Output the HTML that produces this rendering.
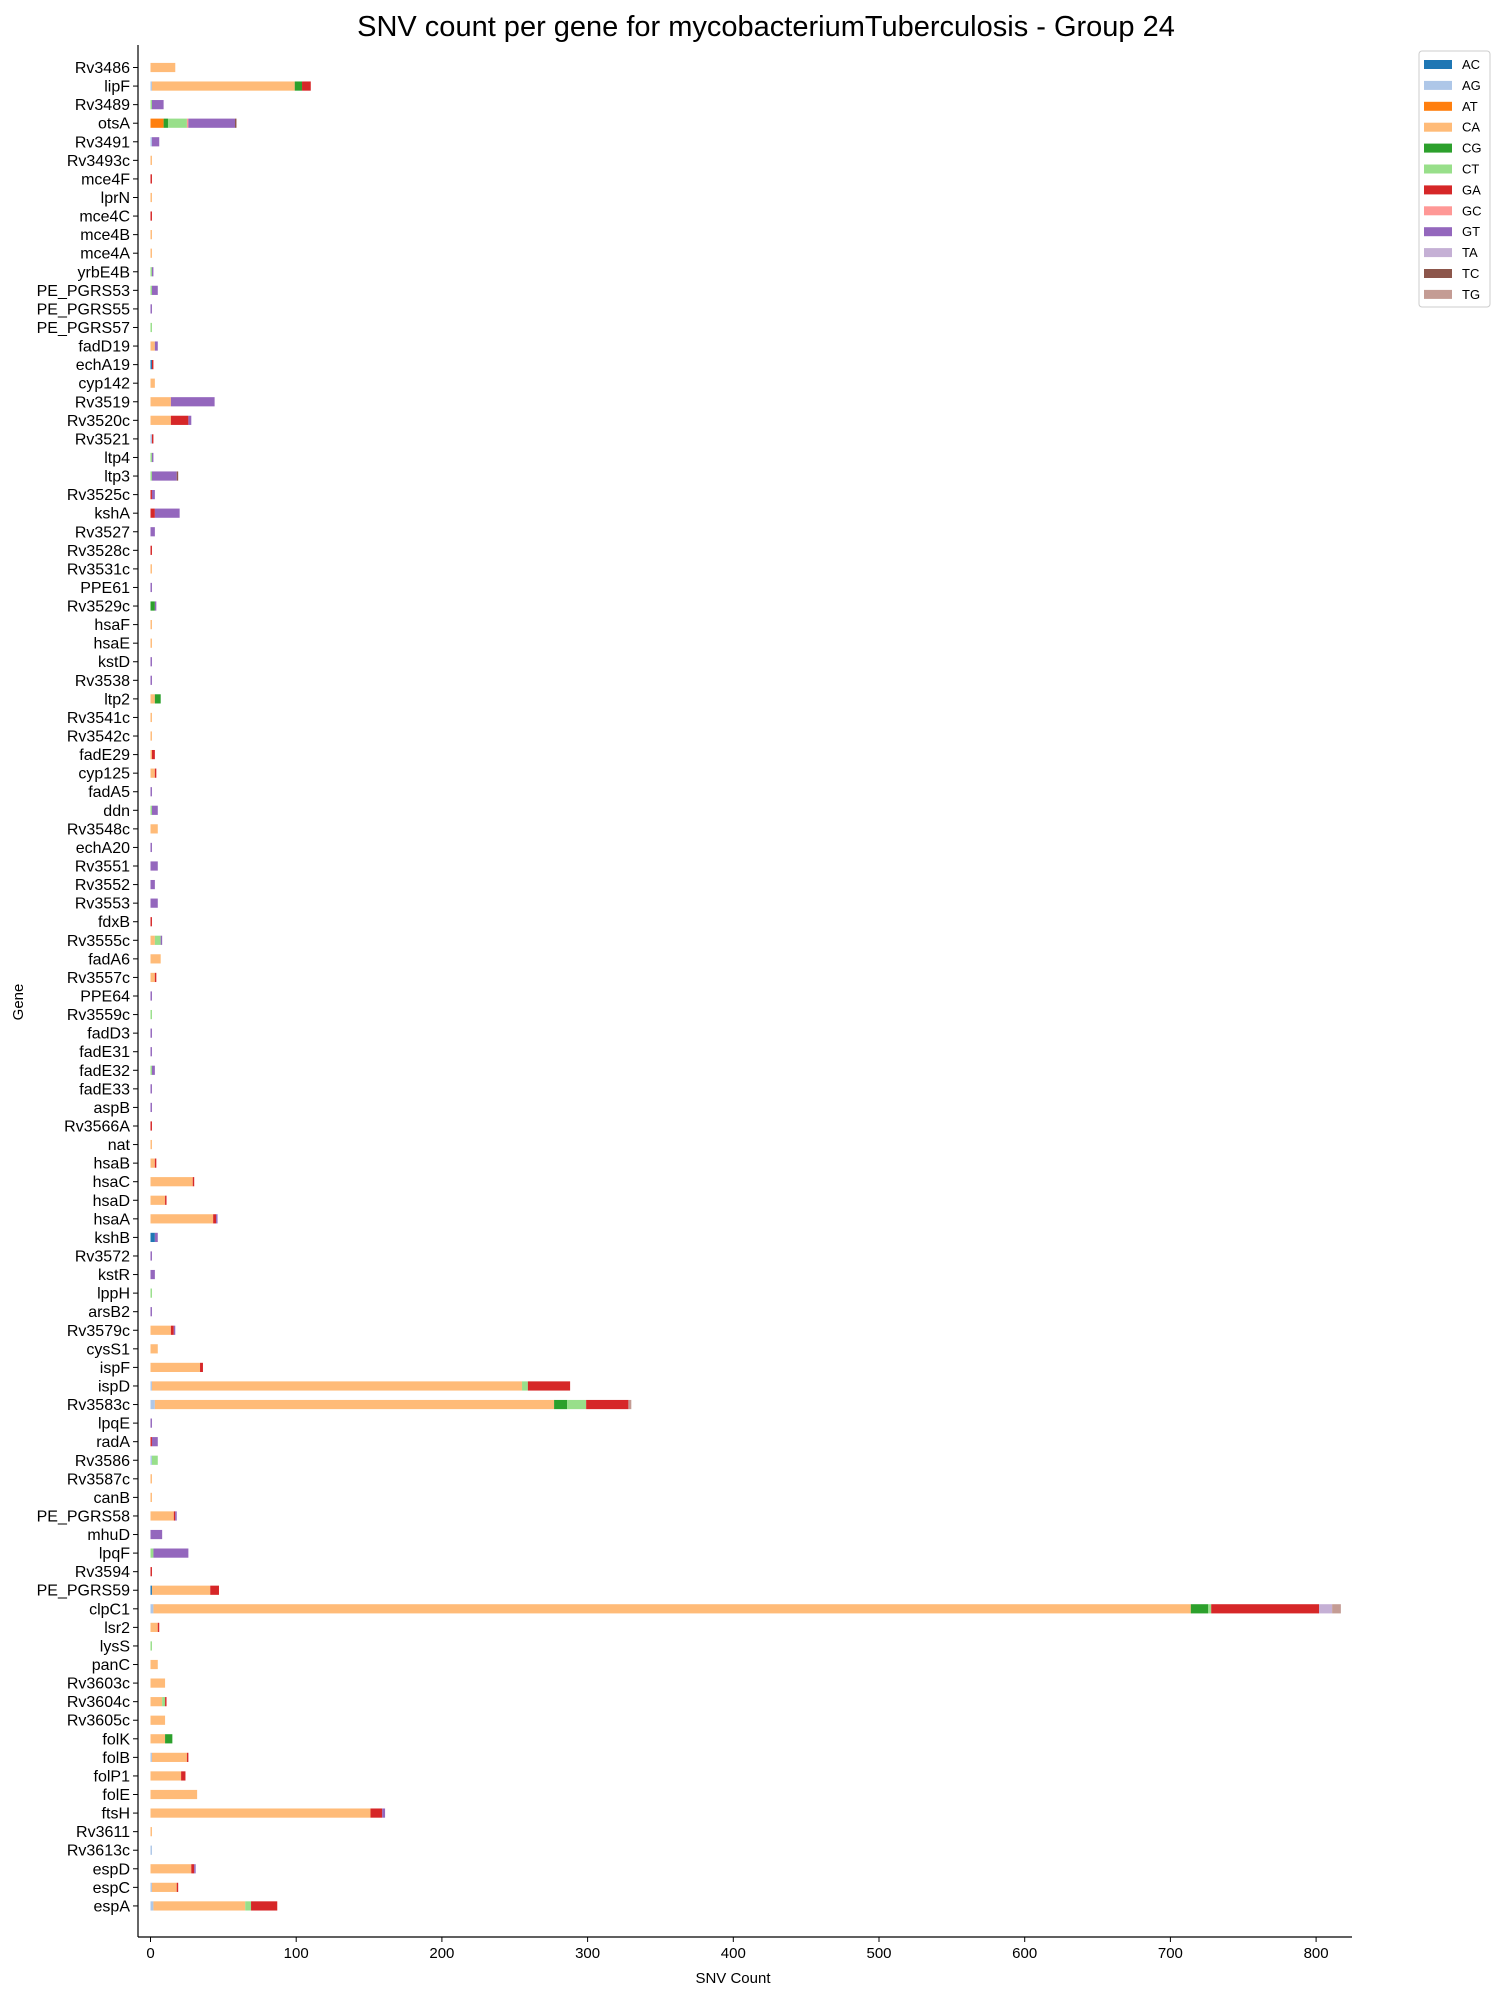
<!DOCTYPE html>
<html><head><meta charset="utf-8"><style>
body{margin:0;background:#fff;}
svg{display:block;font-family:"Liberation Sans","DejaVu Sans",sans-serif;}
</style></head><body>
<svg id="chart" width="1493" height="1992" viewBox="0 0 1493 1992" xmlns="http://www.w3.org/2000/svg">
<text x="766" y="36" font-size="29" text-anchor="middle" fill="#000">SNV count per gene for mycobacteriumTuberculosis - Group 24</text>
<g id="bars"></g>
<g id="yaxis"></g>
<g id="xaxis"></g>
<text x="733" y="1983" font-size="15" text-anchor="middle">SNV Count</text>
<text transform="translate(23,1002) rotate(-90)" font-size="15" text-anchor="middle">Gene</text>
<g id="legend"></g>
</svg>
<script>
const genes=["Rv3486","lipF","Rv3489","otsA","Rv3491","Rv3493c","mce4F","lprN","mce4C","mce4B",
"mce4A","yrbE4B","PE_PGRS53","PE_PGRS55","PE_PGRS57","fadD19","echA19","cyp142","Rv3519","Rv3520c",
"Rv3521","ltp4","ltp3","Rv3525c","kshA","Rv3527","Rv3528c","Rv3531c","PPE61","Rv3529c",
"hsaF","hsaE","kstD","Rv3538","ltp2","Rv3541c","Rv3542c","fadE29","cyp125","fadA5",
"ddn","Rv3548c","echA20","Rv3551","Rv3552","Rv3553","fdxB","Rv3555c","fadA6","Rv3557c",
"PPE64","Rv3559c","fadD3","fadE31","fadE32","fadE33","aspB","Rv3566A","nat","hsaB",
"hsaC","hsaD","hsaA","kshB","Rv3572","kstR","lppH","arsB2","Rv3579c","cysS1",
"ispF","ispD","Rv3583c","lpqE","radA","Rv3586","Rv3587c","canB","PE_PGRS58","mhuD",
"lpqF","Rv3594","PE_PGRS59","clpC1","lsr2","lysS","panC","Rv3603c","Rv3604c","Rv3605c",
"folK","folB","folP1","folE","ftsH","Rv3611","Rv3613c","espD","espC","espA"];
const seriesNames=["AC","AG","AT","CA","CG","CT","GA","GC","GT","TA","TC","TG"];
const seriesColors=["#1f77b4","#aec7e8","#ff7f0e","#ffbb78","#2ca02c","#98df8a","#d62728","#ff9896","#9467bd","#c5b0d5","#8c564b","#c49c94"];
const AC=[0,0,0,0,0,0,0,0,0,0, 0,0,0,0,0,0,1,0,0,0, 0,0,0,0,0,0,0,0,0,0, 0,0,0,0,0,0,0,0,0,0, 0,0,0,0,0,0,0,0,0,0,
0,0,0,0,0,0,0,0,0,0, 0,0,0,3,0,0,0,0,0,0, 0,0,0,0,0,0,0,0,0,0, 0,0,1,0,0,0,0,0,0,0, 0,0,0,0,0,0,0,0,0,0];
const AG=[0,1,0,0,1,0,0,0,0,0, 0,0,0,0,0,0,0,0,0,0, 1,0,0,0,0,0,0,0,0,0, 0,0,0,0,0,0,0,0,0,0, 0,0,0,0,0,0,0,0,0,0,
0,0,0,0,0,0,0,0,0,0, 0,0,0,0,0,0,0,0,0,0, 0,1,3,0,0,1,0,0,0,0, 0,0,0,2,0,0,0,0,0,0, 0,1,0,0,0,0,1,0,1,2];
const AT=[0,0,0,9,0,0,0,0,0,0, 0,0,0,0,0,0,0,0,0,0, 0,0,0,0,0,0,0,0,0,0, 0,0,0,0,0,0,0,0,0,0, 0,0,0,0,0,0,0,0,0,0,
0,0,0,0,0,0,0,0,0,0, 0,0,0,0,0,0,0,0,0,0, 0,0,0,0,0,0,0,0,0,0, 0,0,0,0,0,0,0,0,0,0, 0,0,0,0,0,0,0,0,0,0];
const CA=[17,98,0,0,0,1,0,1,0,1, 1,0,0,0,0,3,0,3,14,14, 0,0,0,0,0,0,0,1,0,0, 1,1,0,0,3,1,1,1,3,0, 0,5,0,0,0,0,0,3,7,3,
0,0,0,0,0,0,0,0,1,3, 29,10,43,0,0,0,0,0,14,5, 34,254,274,0,0,0,1,1,16,0, 0,0,40,712,5,0,5,10,8,10, 10,24,21,32,151,1,0,28,17,63];
const CG=[0,5,0,3,0,0,0,0,0,0, 0,0,0,0,0,0,0,0,0,0, 0,0,0,0,0,0,0,0,0,3, 0,0,0,0,4,0,0,0,0,0, 0,0,0,0,0,0,0,0,0,0,
0,0,0,0,0,0,0,0,0,0, 0,0,0,0,0,0,0,0,0,0, 0,0,9,0,0,0,0,0,0,0, 0,0,0,12,0,0,0,0,0,0, 5,0,0,0,0,0,0,0,0,0];
const CT=[0,0,1,13,0,0,0,0,0,0, 0,1,1,0,1,0,0,0,0,0, 0,1,1,0,0,0,0,0,0,0, 0,0,0,0,0,0,0,0,0,0, 1,0,0,0,0,0,0,4,0,0,
0,1,0,0,1,0,0,0,0,0, 0,0,0,0,0,0,1,0,0,0, 0,4,13,0,0,4,0,0,0,0, 2,0,0,2,0,1,0,0,2,0, 0,0,0,0,0,0,0,0,0,4];
const GA=[0,6,0,0,0,0,1,0,1,0, 0,0,0,0,0,0,1,0,0,12, 1,0,0,1,3,0,1,0,0,0, 0,0,0,0,0,0,0,2,1,0, 0,0,0,0,0,0,1,0,0,1,
0,0,0,0,0,0,0,1,0,1, 1,1,2,0,0,0,0,0,2,0, 2,29,29,0,1,0,0,0,1,0, 0,1,6,74,1,0,0,0,1,0, 0,1,3,0,8,0,0,2,1,18];
const GC=[0,0,0,1,0,0,0,0,0,0, 0,0,0,0,0,0,0,0,0,0, 0,0,0,0,0,0,0,0,0,0, 0,0,0,0,0,0,0,0,0,0, 0,0,0,0,0,0,0,0,0,0,
0,0,0,0,0,0,0,0,0,0, 0,0,0,0,0,0,0,0,0,0, 0,0,0,0,0,0,0,0,0,0, 0,0,0,0,0,0,0,0,0,0, 0,0,0,0,0,0,0,0,0,0];
const GT=[0,0,8,32,5,0,0,0,0,0, 0,1,4,1,0,2,0,0,30,2, 0,1,17,2,17,3,0,0,1,1, 0,0,1,1,0,0,0,0,0,1, 4,0,1,5,3,5,0,1,0,0,
1,0,1,1,2,1,1,0,0,0, 0,0,1,2,1,3,0,1,1,0, 0,0,0,1,4,0,0,0,1,8, 24,0,0,0,0,0,0,0,0,0, 0,0,0,0,2,0,0,1,0,0];
const TA=[0,0,0,0,0,0,0,0,0,0, 0,0,0,0,0,0,0,0,0,0, 0,0,0,0,0,0,0,0,0,0, 0,0,0,0,0,0,0,0,0,0, 0,0,0,0,0,0,0,0,0,0,
0,0,0,0,0,0,0,0,0,0, 0,0,0,0,0,0,0,0,0,0, 0,0,0,0,0,0,0,0,0,0, 0,0,0,9,0,0,0,0,0,0, 0,0,0,0,0,0,0,0,0,0];
const TC=[0,0,0,1,0,0,0,0,0,0, 0,0,0,0,0,0,0,0,0,0, 0,0,1,0,0,0,0,0,0,0, 0,0,0,0,0,0,0,0,0,0, 0,0,0,0,0,0,0,0,0,0,
0,0,0,0,0,0,0,0,0,0, 0,0,0,0,0,0,0,0,0,0, 0,0,0,0,0,0,0,0,0,0, 0,0,0,0,0,0,0,0,0,0, 0,0,0,0,0,0,0,0,0,0];
const TG=[0,0,0,0,0,0,0,0,0,0, 0,0,0,0,0,0,0,0,0,0, 0,0,0,0,0,0,0,0,0,0, 0,0,0,0,0,0,0,0,0,0, 0,0,0,0,0,0,0,0,0,0,
0,0,0,0,0,0,0,0,0,0, 0,0,0,0,0,0,0,0,0,0, 0,0,2,0,0,0,0,0,0,0, 0,0,0,6,0,0,0,0,0,0, 0,0,0,0,0,0,0,0,0,0];
const xTicks=[0,100,200,300,400,500,600,700,800];

const series=[AC,AG,AT,CA,CG,CT,GA,GC,GT,TA,TC,TG];
const NS="http://www.w3.org/2000/svg";
const X0=150.5, XS=1.457, Y0=67.5, YS=18.57, BH=9.2;
const spineX=138, spineTop=45, spineBottom=1937, plotRight=1352;
function xScale(v){return X0+v*XS;}
function yScale(i){return Y0+i*YS;}
function mk(tag,attrs,parent){const e=document.createElementNS(NS,tag);for(const k in attrs)e.setAttribute(k,attrs[k]);parent.appendChild(e);return e;}

const barsG=document.getElementById('bars');
genes.forEach((g,i)=>{
  let acc=0;
  series.forEach((arr,s)=>{
    const v=arr[i];
    if(!v)return;
    const r=mk('rect',{x:xScale(acc),y:yScale(i)-BH/2,width:v*XS,height:BH,fill:seriesColors[s]},barsG);
    
    
    acc+=v;
  });
});

const yG=document.getElementById('yaxis');
const ysp=mk('line',{x1:spineX,y1:spineTop,x2:spineX,y2:spineBottom,stroke:'#000','stroke-width':1.2},yG);


genes.forEach((g,i)=>{
  const y=yScale(i);
  const t=mk('line',{x1:spineX-5,y1:y,x2:spineX,y2:y,stroke:'#000','stroke-width':1},yG);
  
  
  const tx=mk('text',{x:spineX-8,y:y+5.5,'font-size':16,'text-anchor':'end'},yG);
  tx.textContent=g;
  
  
});

const xG=document.getElementById('xaxis');
const xsp=mk('line',{x1:spineX,y1:spineBottom,x2:plotRight,y2:spineBottom,stroke:'#000','stroke-width':1.2},xG);


xTicks.forEach(v=>{
  const x=xScale(v);
  const t=mk('line',{x1:x,y1:spineBottom,x2:x,y2:spineBottom+5,stroke:'#000','stroke-width':1},xG);
  
  
  const tx=mk('text',{x:x,y:spineBottom+21,'font-size':15,'text-anchor':'middle'},xG);
  tx.textContent=String(v);
  
  
});

const lG=document.getElementById('legend');
const lb=mk('rect',{x:1419,y:51,width:71,height:256,fill:'#fff',stroke:'#ccc','stroke-width':1,rx:3},lG);


seriesNames.forEach((n,s)=>{
  const y=64+s*20.9;
  const sw=mk('rect',{x:1424,y:y-4,width:28,height:9,fill:seriesColors[s]},lG);
  
  
  const tx=mk('text',{x:1462,y:y+5,'font-size':13},lG);
  tx.textContent=n;
  
  
});
</script>
</body></html>
